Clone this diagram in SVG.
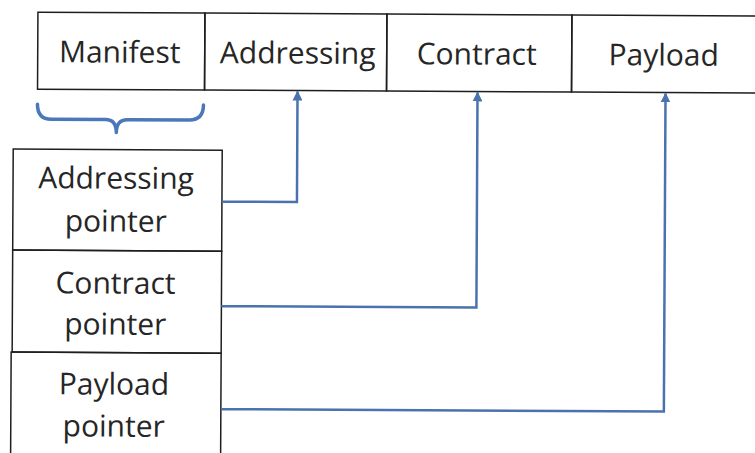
<svg xmlns="http://www.w3.org/2000/svg" width="755" height="453" viewBox="0 0 755 453">
  <style>
    .box { fill: none; stroke: #1e1e1e; stroke-width: 1.5; }
    .lbl { font-family: "Open Sans", "Liberation Sans", sans-serif; font-size: 30px; fill: #262626; text-anchor: middle; }
    .wire { fill: none; stroke: #4a73ad; stroke-width: 2.5; }
    .brace { fill: none; stroke: #4a78b8; stroke-width: 3.5; stroke-linecap: round; stroke-linejoin: round; }
  </style>
  <defs>
    <marker id="arrow" viewBox="0 0 10 10" refX="9" refY="5" markerWidth="4" markerHeight="4" orient="auto" markerUnits="strokeWidth">
      <path d="M0,0 L10,5 L0,10 Z" fill="#4a73ad"/>
    </marker>
  </defs>
  <rect width="755" height="453" fill="#ffffff"/>
  <g transform="rotate(0.3)">
    <!-- message layout strip -->
    <g id="manifest">
      <rect class="box" x="38" y="12" width="167" height="77"/>
      <text class="lbl" x="120" y="62">Manifest</text>
    </g>
    <g id="addressing">
      <rect class="box" x="205" y="12" width="182" height="77"/>
      <text class="lbl" x="298" y="62">Addressing</text>
    </g>
    <g id="contract">
      <rect class="box" x="387" y="12" width="185" height="77"/>
      <text class="lbl" x="477" y="62">Contract</text>
    </g>
    <g id="payload">
      <rect class="box" x="572" y="12" width="200" height="77"/>
      <text class="lbl" x="664" y="62">Payload</text>
    </g>

    <!-- brace expanding the manifest -->
    <path id="manifest-brace" class="brace" d="M38,104 Q38,119 52,119 L106,119 Q117,119 117,132 Q117,119 128,119 L190,119 Q204,119 204,104"/>

    <!-- pointer table -->
    <g id="addressing-pointer">
      <rect class="box" x="14" y="149" width="209" height="101"/>
      <text class="lbl" x="117" y="188">Addressing</text>
      <text class="lbl" x="117" y="231">pointer</text>
    </g>
    <g id="contract-pointer">
      <rect class="box" x="14" y="250" width="209" height="102"/>
      <text class="lbl" x="117" y="293">Contract</text>
      <text class="lbl" x="117" y="334">pointer</text>
    </g>
    <g id="payload-pointer">
      <rect class="box" x="13" y="352" width="210" height="110"/>
      <text class="lbl" x="116" y="394">Payload</text>
      <text class="lbl" x="116" y="436">pointer</text>
    </g>

    <!-- pointer connectors -->
    <g id="connectors">
      <path class="wire" d="M223,200.5 L298,200.5 L298,90" marker-end="url(#arrow)"/>
      <path class="wire" d="M223,305 L478,305 L478,90" marker-end="url(#arrow)"/>
      <path class="wire" d="M223,408 L666,408 L666,90" marker-end="url(#arrow)"/>
    </g>
  </g>
</svg>
